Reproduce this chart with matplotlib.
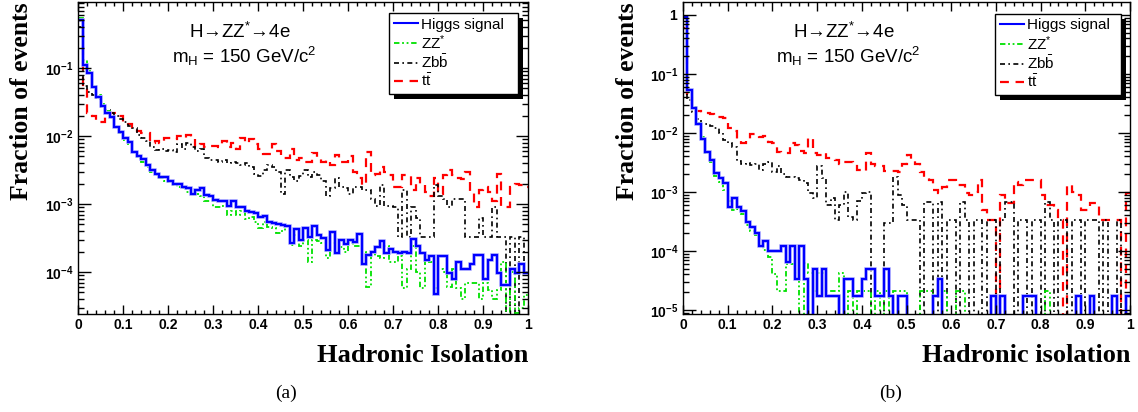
import numpy as np
import matplotlib
matplotlib.use("Agg")
import matplotlib.pyplot as plt
import matplotlib.patheffects as pe
from matplotlib.lines import Line2D
from matplotlib.patches import Rectangle
from matplotlib.ticker import MultipleLocator, LogLocator, FuncFormatter, NullFormatter

plt.rcParams['font.family'] = ['Liberation Sans', 'DejaVu Sans']
plt.rcParams['mathtext.fontset'] = 'custom'
plt.rcParams['mathtext.rm'] = 'Liberation Sans'
plt.rcParams['mathtext.it'] = 'Liberation Sans:italic'
plt.rcParams['mathtext.bf'] = 'Liberation Sans:bold'

# 100 bins of hadronic isolation, 0..1
edges = np.linspace(0, 1, 101)

# ---- panel (a) ----
sig_a = [0.51, 0.11, 0.085, 0.052, 0.037, 0.028, 0.022, 0.019, 0.0136, 0.0115,
         0.0094, 0.0082, 0.0058, 0.0050, 0.0046, 0.0037, 0.0032, 0.0028, 0.0025, 0.0025,
         0.0022, 0.0020, 0.0020, 0.0018, 0.0017, 0.0014, 0.0016, 0.0017, 0.00135, 0.0013,
         0.00115, 0.0011, 0.0011, 0.00095, 0.0011, 0.00091, 0.0009, 0.0008, 0.00077, 0.00074,
         0.00065, 0.00067, 0.00055, 0.00053, 0.0005, 0.00049, 0.00047, 0.00027, 0.00043, 0.0003,
         0.00045, 0.00033, 0.00048, 0.00035, 0.00032, 0.00021, 0.00039, 0.00019, 0.0003, 0.00026,
         0.0003, 0.00028, 0.00036, 0.00013, 0.00018, 0.0002, 0.00023, 0.00029, 0.00019, 0.00022,
         0.0002, 0.00019, 0.0002, 0.00019, 0.00031, 0.00024, 0.00019, 0.00015, 0.00017, 0.000048,
         0.00017, 0.00017, 0.000097, 0.00008, 0.00014, 0.00011, 0.00011, 0.00013, 0.00018, 0.00018,
         0.00008, 0.00015, 0.00018, 0.000097, 0.000065, 0.000065, 0.00011, 0.000097, 0.00013, 0.000097]
zz_a = [0.55, 0.13, 0.09, 0.055, 0.04, 0.03, 0.023, 0.019, 0.0135, 0.011,
        0.0088, 0.0075, 0.0058, 0.0048, 0.0042, 0.0035, 0.003, 0.0027, 0.0024, 0.0022,
        0.0021, 0.0019, 0.0018, 0.0017, 0.0015, 0.0014, 0.0014, 0.0013, 0.0011, 0.0011,
        0.0009, 0.0009, 0.00095, 0.0007, 0.0008, 0.0007, 0.0008, 0.0006, 0.00065, 0.00055,
        0.00045, 0.00055, 0.00046, 0.00045, 0.00038, 0.0004, 0.00048, 0.00025, 0.00035, 0.00024,
        0.0003, 0.00014, 0.0003, 0.00029, 0.00027, 0.00016, 0.00027, 0.0002, 0.00023, 0.0002,
        0.00027, 0.00024, 0.00024, 0.0002, 0.00006, 0.0002, 0.00017, 0.00016, 0.00024, 0.00014,
        0.00014, 0.00017, 0.000058, 0.00011, 0.00024, 0.0001, 0.000058, 0.00017, 0.00014, 0.000058,
        0.00011, 0.0001, 0.00006, 0.00011, 0.000058, 0.00004, 0.00007, 0.00007, 0.00007, 0.00004,
        0.00007, 0.000055, 0.00004, 0.000055, 0.00014, 0.00002, 0.0001, 0.000025, 0.00003, 0.000046]
zbb_a = [0.4, 0.055, 0.045, 0.04, 0.035, 0.027, 0.024, 0.022, 0.02, 0.018,
         0.016, 0.014, 0.013, 0.0105, 0.0095, 0.0085, 0.007, 0.0062, 0.0065, 0.006,
         0.0062, 0.0058, 0.0075, 0.0065, 0.008, 0.0068, 0.006, 0.0065, 0.0048, 0.0045,
         0.0045, 0.0042, 0.0045, 0.004, 0.0042, 0.004, 0.0038, 0.004, 0.0035, 0.0028,
         0.0026, 0.0032, 0.0038, 0.0035, 0.003, 0.0014, 0.0032, 0.0025, 0.0022, 0.0026,
         0.0032, 0.0025, 0.003, 0.0027, 0.0022, 0.0013, 0.0017, 0.0024, 0.0018, 0.0017,
         0.0014, 0.0018, 0.0018, 0.0016, 0.0016, 0.0012, 0.00093, 0.0019, 0.00093, 0.00093,
         0.0009, 0.00033, 0.0016, 0.00033, 0.0009, 0.00062, 0.00033, 0.00033, 0.00033, 0.0019,
         0.0013, 0.0012, 0.0009, 0.0012, 0.0012, 0.0012, 0.00033, 0.00033, 0.00033, 0.00062,
         0.00033, 0.00033, 0.0009, 0.00033, 0.00033, 0, 0.00033, 0, 0.00033, 0.0001]
tt_a = [0.5, 0.05, 0.022, 0.02, 0.016, 0.016, 0.02, 0.022, 0.022, 0.02,
        0.016, 0.015, 0.013, 0.012, 0.011, 0.011, 0.008, 0.0085, 0.008, 0.0095,
        0.0095, 0.009, 0.01, 0.0095, 0.0105, 0.0095, 0.007, 0.0075, 0.007, 0.0072,
        0.0072, 0.0068, 0.0085, 0.007, 0.008, 0.0065, 0.0095, 0.008, 0.009, 0.0075,
        0.0065, 0.0055, 0.0055, 0.0075, 0.006, 0.0048, 0.0048, 0.0065, 0.0045, 0.0048,
        0.0042, 0.0042, 0.0056, 0.0048, 0.0042, 0.0045, 0.0037, 0.0053, 0.0042, 0.0042,
        0.005, 0.003, 0.0024, 0.0019, 0.0058, 0.0027, 0.0028, 0.0035, 0.003, 0.0027,
        0.0018, 0.0018, 0.0027, 0.0027, 0.0016, 0.0024, 0.002, 0.0015, 0.0013, 0.0024,
        0.0014, 0.0027, 0.0032, 0.0027, 0.0024, 0.0023, 0.003, 0.0015, 0.0009, 0.0016,
        0.0018, 0.0015, 0.0011, 0.0028, 0.0009, 0.0009, 0.0018, 0.002, 0.0019, 0.0018]

# ---- panel (b) ----
sig_b = [0.93, 0.054, 0.027, 0.014, 0.008, 0.0048, 0.0035, 0.0021, 0.0017, 0.0014,
         0.00056, 0.0008, 0.00056, 0.00047, 0.00031, 0.00026, 0.0002, 0.00012, 0.00015, 0.0001,
         0.0001, 0.0001, 0.00012, 0.000066, 0.00012, 0.000033, 0.00012, 0.000033, 0, 0.00005,
         0.000017, 0.00005, 0.000017, 0.000017, 0.000017, 0, 0.000033, 0.000033, 0.000017, 0.000017,
         0.000033, 0.00005, 0.00005, 0.000017, 0.000017, 0.00005, 0.000017, 0, 0.000017, 0.000017,
         0, 0, 0, 0, 0, 0, 0.000017, 0.000033, 0, 0,
         0, 0, 0, 0, 0, 0, 0, 0, 0, 0.000017,
         0, 0.000017, 0, 0, 0, 0, 0.000017, 0.000017, 0.000017, 0,
         0, 0, 0, 0, 0, 0, 0, 0, 0.000017, 0,
         0, 0.000017, 0, 0, 0, 0, 0.000017, 0, 0, 0.000017]
zz_b = [0.95, 0.05, 0.028, 0.015, 0.0085, 0.0045, 0.0032, 0.0019, 0.0015, 0.0011,
        0.0007, 0.0005, 0.00052, 0.00042, 0.00028, 0.00022, 0.00019, 0.00012, 0.000105, 0.00008,
        0.00004, 0.000021, 0.000021, 0.00006, 0.00006, 0.000042, 0, 0.000063, 0.000042, 0.000021,
        0.000042, 0.000042, 0.000021, 0.000021, 0.000021, 0.000042, 0, 0.000021, 0, 0.000021,
        0.000021, 0.000021, 0, 0.000021, 0, 0.000021, 0, 0.000021, 0.000021, 0.000021,
        0, 0, 0, 0.000021, 0.000021, 0.000021, 0, 0, 0.000021, 0,
        0, 0.000021, 0.000021, 0, 0, 0, 0, 0, 0, 0,
        0, 0, 0, 0, 0, 0, 0, 0, 0, 0,
        0, 0.000021, 0, 0, 0, 0, 0, 0, 0, 0,
        0, 0, 0, 0, 0, 0, 0, 0, 0, 0]
zbb_b = [0.9, 0.036, 0.023, 0.017, 0.014, 0.014, 0.013, 0.012, 0.01, 0.0075,
         0.0068, 0.0058, 0.0033, 0.003, 0.0031, 0.0029, 0.003, 0.0024, 0.003, 0.0032,
         0.0022, 0.0028, 0.002, 0.0018, 0.0018, 0.0017, 0.0016, 0.0014, 0.00095, 0.0008,
         0.0028, 0.0017, 0.0006, 0.0008, 0.00034, 0.0006, 0.001, 0.00038, 0.00034, 0.0007,
         0.00095, 0.001, 0, 0, 0, 0.0003, 0.0003, 0.0018, 0.0009, 0.0006,
         0.00034, 0.00034, 0.00034, 0, 0.00068, 0.00068, 0, 0.00068, 0, 0.00034,
         0.00034, 0, 0.00068, 0.00034, 0, 0.00034, 0.00034, 0, 0.00034, 0.00034,
         0, 0.00034, 0.00068, 0.00068, 0, 0.00034, 0.00034, 0, 0.00034, 0.00034,
         0, 0.00068, 0.00034, 0, 0.00034, 0.00034, 0, 0.00034, 0.00034, 0,
         0.00034, 0.00034, 0.00034, 0, 0.00034, 0, 0, 0.00034, 0, 0]
tt_b = [0.6, 0.045, 0.03, 0.024, 0.022, 0.022, 0.021, 0.019, 0.019, 0.018,
        0.012, 0.011, 0.0072, 0.0068, 0.0075, 0.0095, 0.0098, 0.0085, 0.0088, 0.007,
        0.0068, 0.0048, 0.0046, 0.0045, 0.0068, 0.0062, 0.005, 0.0045, 0.0082, 0.0045,
        0.0042, 0.0045, 0.0038, 0.0036, 0.0035, 0.003, 0.0032, 0.0032, 0.003, 0.0024,
        0.0023, 0.0046, 0.003, 0.0028, 0.0028, 0.0023, 0.0023, 0.0023, 0.0022, 0.003,
        0.0042, 0.0036, 0.003, 0.0022, 0.0018, 0.0016, 0.0011, 0.00096, 0.0012, 0.0016,
        0.0016, 0.0013, 0.0013, 0.00096, 0.0009, 0.001, 0.0016, 0.0005, 0.00034, 0.00034,
        0, 0.0009, 0.00065, 0.00065, 0.0015, 0.0013, 0.0016, 0.0016, 0.0016, 0.0016,
        0.0009, 0.0006, 0.0006, 0.0005, 0.00034, 0, 0.0013, 0.001, 0.0009, 0.0005,
        0.0005, 0.00065, 0.00065, 0.00034, 0.00034, 0.00034, 0.00034, 0.00034, 0, 0.00096]

labels = ['Higgs signal', 'ZZ$^{*}$', r'Z$\mathrm{b\bar{b}}$', r't$\mathrm{\bar{t}}$']

styles = {
    'sig': dict(color='#0000ff', lw=1.6, ls='-'),
    'zz': dict(color='#00e000', lw=1.3, ls=(0, (3, 1.5, 1, 1.5, 1, 1.5))),
    'zbb': dict(color='black', lw=1.2, ls=(0, (3, 2, 1, 2))),
    'tt': dict(color='#ff0000', lw=1.6, ls=(0, (4, 3))),
}

W, H = 1138, 412
fig = plt.figure(figsize=(W / 100, H / 100), dpi=100)
ax_a = fig.add_axes([78 / W, 1 - 314 / H, 450 / W, 312 / H])
ax_b = fig.add_axes([683 / W, 1 - 314 / H, 447 / W, 312 / H])


def ylab(v, pos):
    e = int(round(np.log10(v)))
    if e == 0:
        return r'$\mathbf{1}$'
    return r'$\mathbf{10^{%d}}$' % e


def draw_panel(ax, series, ylim, xlabel, tag, tag_x, legend_box):
    for key in ['tt', 'zbb', 'zz', 'sig']:
        vals = np.maximum(np.asarray(series[key], float), 1e-9)
        st = styles[key]
        art = ax.stairs(vals, edges, baseline=None, color=st['color'],
                        linewidth=st['lw'], linestyle=st['ls'])
        if key == 'sig':
            art.set_path_effects([pe.Stroke(linewidth=2.6, foreground='#b0b0ff'), pe.Normal()])
    ax.set_yscale('log')
    ax.set_xlim(0, 1)
    ax.set_ylim(*ylim)

    ax.xaxis.set_major_locator(MultipleLocator(0.1))
    ax.xaxis.set_minor_locator(MultipleLocator(0.02))
    ax.xaxis.set_major_formatter(FuncFormatter(lambda v, p: ('%g' % round(v, 2))))
    ax.yaxis.set_major_locator(LogLocator(base=10, numticks=20))
    ax.yaxis.set_minor_locator(LogLocator(base=10, subs=np.arange(2, 10), numticks=20))
    ax.yaxis.set_major_formatter(FuncFormatter(ylab))
    ax.yaxis.set_minor_formatter(NullFormatter())

    ax.tick_params(which='both', direction='in', top=True, right=True, width=1,
                   labelsize=10)
    ax.tick_params(axis='x', which='major', length=6.5, pad=3)
    ax.tick_params(axis='x', which='minor', length=3.2)
    ax.tick_params(axis='y', which='major', length=9, pad=3)
    ax.tick_params(axis='y', which='minor', length=4.5)
    for lab in ax.get_xticklabels():
        lab.set_fontweight('bold')
    for sp in ax.spines.values():
        sp.set_linewidth(1.0)

    ax.text(0.36, 0.885, r'H→ZZ$^{*}$→4e', transform=ax.transAxes,
            ha='center', va='baseline', fontsize=13.5)
    ax.text(0.37, 0.804, r'm$_\mathrm{H}$ = 150 GeV/c$^2$', transform=ax.transAxes,
            ha='center', va='baseline', fontsize=13.5)

    handles = [Line2D([], [], color=styles[k]['color'], lw=styles[k]['lw'] if k != 'sig' else 1.5,
                      ls=styles[k]['ls']) for k in ['sig', 'zz', 'zbb', 'tt']]
    leg = ax.legend(handles, labels, loc='upper left', bbox_to_anchor=legend_box,
                    mode='expand', borderaxespad=0, fontsize=11, frameon=True,
                    fancybox=False, framealpha=1, edgecolor='black',
                    handlelength=1.6, handletextpad=0.2, labelspacing=0.1,
                    borderpad=0.3)
    leg.get_frame().set_linewidth(1.0)

    bbox = ax.get_position()
    fig.text(bbox.x1, 1 - 362 / H, xlabel, ha='right', va='baseline',
             family='Liberation Serif', fontweight='bold', fontsize=19)
    fig.text(tag_x / W, 1 - 393 / H, tag, ha='center', va='center',
             family='Liberation Serif', fontsize=14)
    fig.text(bbox.x0 - 56 / W, 1 - 2 / H, 'Fraction of events', rotation=90,
             ha='center', va='top', family='Liberation Serif',
             fontweight='bold', fontsize=18.5)
    return leg


leg_a = draw_panel(ax_a, dict(sig=sig_a, zz=zz_a, zbb=zbb_a, tt=tt_a),
                   (2.41e-5, 0.935), 'Hadronic Isolation', '(a)', 286,
                   (0.691, 0.718, 0.287, 0.247))
leg_b = draw_panel(ax_b, dict(sig=sig_b, zz=zz_b, zbb=zbb_b, tt=tt_b),
                   (8.55e-6, 1.66), 'Hadronic isolation', '(b)', 891,
                   (0.698, 0.718, 0.282, 0.244))

# ROOT-like solid legend shadow
fig.canvas.draw()
for ax, leg in [(ax_a, leg_a), (ax_b, leg_b)]:
    bb = leg.get_frame().get_window_extent()
    inv = ax.transAxes.inverted()
    x0, y0 = inv.transform((bb.x0 + 5, bb.y0 - 5))
    x1, y1 = inv.transform((bb.x1 + 5, bb.y1 - 5))
    ax.add_patch(Rectangle((x0, y0), x1 - x0, y1 - y0, transform=ax.transAxes,
                           facecolor='black', edgecolor='none', zorder=4.9, clip_on=False))

fig.savefig('out.png', dpi=100)
